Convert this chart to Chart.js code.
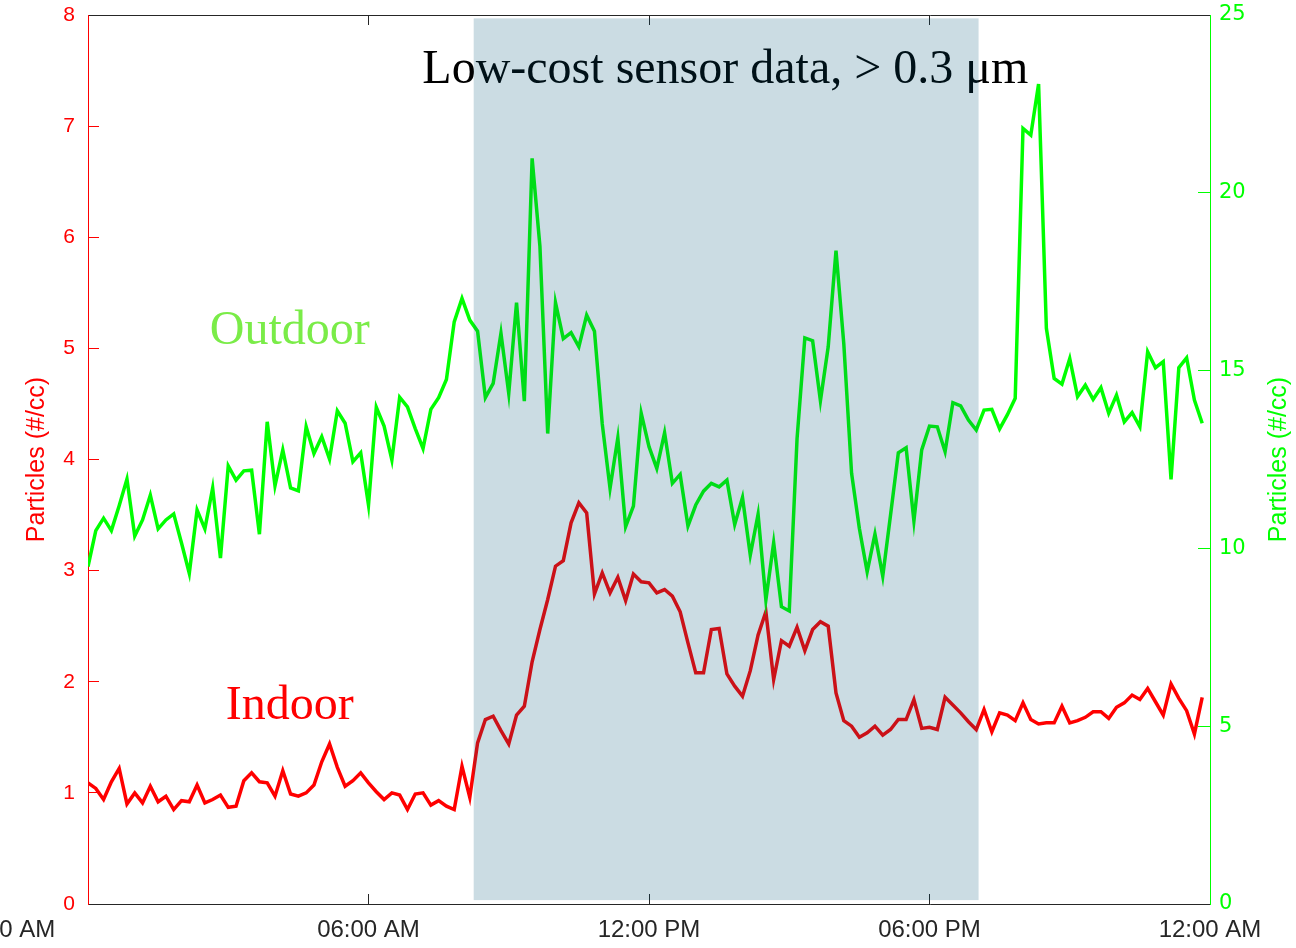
<!DOCTYPE html>
<html>
<head>
<meta charset="utf-8">
<script src="https://cdn.jsdelivr.net/npm/chart.js@4/dist/chart.umd.min.js"></script>
<style>
  html, body { margin: 0; padding: 0; background: #fff; overflow: hidden; }
  #wrap { width: 1296px; height: 948px; }
</style>
</head>
<body>
<div id="wrap"><canvas id="myChart" width="1296" height="948"></canvas></div>
<script>
// 10-minute samples over one day (minutes after midnight)
const times = Array.from({ length: 144 }, (_, i) => i * 10);

// outdoor particles, right axis (#/cc)
const outdoor = [
  9.49, 10.5, 10.85, 10.5, 11.2, 11.95, 10.35, 10.8, 11.5, 10.55,
  10.8, 10.97, 10.15, 9.3, 11.08, 10.55, 11.7, 9.73, 12.32, 11.92,
  12.18, 12.2, 10.4, 13.56, 11.76, 12.77, 11.7, 11.62, 13.42, 12.67,
  13.14, 12.51, 13.87, 13.52, 12.44, 12.69, 11.22, 13.97, 13.44, 12.49,
  14.25, 13.98, 13.37, 12.81, 13.91, 14.24, 14.75, 16.37, 17.03, 16.42,
  16.11, 14.24, 14.64, 16.05, 14.36, 16.91, 14.14, 20.97, 18.5, 13.23,
  16.91, 15.9, 16.07, 15.67, 16.56, 16.11, 13.5, 11.69, 13.11, 10.61,
  11.19, 13.8, 12.86, 12.25, 13.25, 11.83, 12.08, 10.63, 11.22, 11.61,
  11.83, 11.73, 11.92, 10.67, 11.43, 9.81, 10.96, 8.55, 10.16, 8.36,
  8.24, 13.08, 15.92, 15.84, 14.15, 15.67, 18.37, 15.76, 12.11, 10.56,
  9.34, 10.4, 9.22, 10.94, 12.69, 12.83, 10.77, 12.77, 13.44, 13.42,
  12.72, 14.1, 14.01, 13.61, 13.33, 13.89, 13.91, 13.36, 13.76, 14.22,
  21.81, 21.62, 23.06, 16.19, 14.78, 14.62, 15.34, 14.27, 14.59, 14.19,
  14.52, 13.8, 14.31, 13.56, 13.82, 13.42, 15.53, 15.08, 15.25, 11.94,
  15.08, 15.36, 14.17, 13.52
];

// indoor particles, left axis (#/cc)
const indoor = [
  1.09, 1.04, 0.94, 1.10, 1.22, 0.90, 1.0, 0.91, 1.06, 0.92,
  0.97, 0.85, 0.93, 0.92, 1.07, 0.91, 0.94, 0.98, 0.87, 0.88,
  1.11, 1.18, 1.10, 1.09, 0.97, 1.20, 0.99, 0.97, 1.0, 1.07,
  1.28, 1.44, 1.23, 1.06, 1.11, 1.18, 1.09, 1.01, 0.94, 1.0,
  0.98, 0.85, 0.99, 1.0, 0.89, 0.93, 0.88, 0.85, 1.24, 0.96,
  1.45, 1.66, 1.69, 1.56, 1.44, 1.70, 1.78, 2.18, 2.47, 2.74,
  3.04, 3.09, 3.43, 3.61, 3.52, 2.79, 2.98, 2.80, 2.94, 2.73,
  2.97, 2.90, 2.89, 2.80, 2.83, 2.77, 2.63, 2.35, 2.08, 2.08,
  2.47, 2.48, 2.07, 1.96, 1.87, 2.10, 2.42, 2.63, 2.02, 2.37,
  2.32, 2.49, 2.28, 2.47, 2.54, 2.50, 1.90, 1.65, 1.60, 1.50,
  1.54, 1.60, 1.52, 1.57, 1.66, 1.66, 1.84, 1.58, 1.59, 1.57,
  1.86, 1.79, 1.72, 1.64, 1.57, 1.75, 1.55, 1.72, 1.70, 1.65,
  1.81, 1.66, 1.62, 1.63, 1.63, 1.78, 1.63, 1.65, 1.68, 1.73,
  1.73, 1.67, 1.77, 1.81, 1.88, 1.84, 1.94, 1.82, 1.70, 1.98,
  1.85, 1.74, 1.53, 1.86
];

const tickMinutes = [0, 360, 720, 1080, 1440];
const tickLabels = ['12:00 AM', '06:00 AM', '12:00 PM', '06:00 PM', '12:00 AM'];

// daytime band (minutes)
const shadeStart = 495;
const shadeEnd = 1143;

const titleText = 'Low-cost sensor data, > 0.3 \u03bcm';

Chart.defaults.font.family = "'Liberation Sans', Arial, sans-serif";

const overlay = {
  id: 'overlay',
  afterDatasetsDraw(chart) {
    const { ctx, scales } = chart;
    const x = scales.x, yL = scales.yL, yR = scales.yR;
    ctx.save();
    ctx.textAlign = 'center';
    ctx.textBaseline = 'middle';
    ctx.font = '48px "Liberation Serif", "Times New Roman", serif';
    ctx.fillStyle = '#000';
    ctx.fillText(titleText, x.getPixelForValue(818), yL.getPixelForValue(7.5));
    ctx.fillStyle = '#7aec48';
    ctx.fillText('Outdoor', x.getPixelForValue(259), yR.getPixelForValue(16.1));
    ctx.fillStyle = '#ff0000';
    ctx.fillText('Indoor', x.getPixelForValue(259), yL.getPixelForValue(1.78));

    // shaded box drawn over the lines
    const x0 = x.getPixelForValue(shadeStart);
    const x1 = x.getPixelForValue(shadeEnd);
    const y0 = yL.getPixelForValue(7.97);
    const y1 = yL.getPixelForValue(0.035);
    ctx.fillStyle = 'rgba(0, 83, 118, 0.204)';
    ctx.fillRect(x0, y0, x1 - x0, y1 - y0);
    ctx.restore();
  },
  afterDraw(chart) {
    const { ctx, chartArea } = chart;
    const yR = chart.scales.yR;
    ctx.save();
    ctx.translate(yR.right - 17, (chartArea.top + chartArea.bottom) / 2);
    ctx.rotate(-Math.PI / 2);
    ctx.textAlign = 'center';
    ctx.textBaseline = 'middle';
    ctx.font = "25px 'Liberation Sans', Arial, sans-serif";
    ctx.fillStyle = '#00ff00';
    ctx.fillText('Particles (#/cc)', 0, 0);
    ctx.restore();
  }
};

const setTicks = s => { s.ticks = tickMinutes.map(v => ({ value: v })); };
const noPad = s => { s.paddingTop = 0; s.paddingBottom = 0; s.paddingLeft = 0; s.paddingRight = 0; };

const ctx = document.getElementById('myChart').getContext('2d');
const chart = new Chart(ctx, {
  type: 'line',
  data: {
    datasets: [
      {
        label: 'Outdoor',
        data: times.map((t, i) => ({ x: t, y: outdoor[i] })),
        borderColor: '#00ff00',
        borderWidth: 3.5,
        pointRadius: 0,
        tension: 0,
        yAxisID: 'yR',
        xAxisID: 'x'
      },
      {
        label: 'Indoor',
        data: times.map((t, i) => ({ x: t, y: indoor[i] })),
        borderColor: '#ff0000',
        borderWidth: 3.5,
        pointRadius: 0,
        tension: 0,
        yAxisID: 'yL',
        xAxisID: 'x'
      }
    ]
  },
  options: {
    responsive: false,
    animation: false,
    layout: { padding: 0 },
    plugins: { legend: { display: false }, tooltip: { enabled: false } },
    scales: {
      x: {
        type: 'linear',
        position: 'bottom',
        min: 0,
        max: 1440,
        afterBuildTicks: setTicks,
        ticks: {
          // the first label sits half off the left edge in the original
          callback: (v, i) => i === 0 ? tickLabels[i] + '\u2003'.repeat(7) : tickLabels[i],
          color: '#262626',
          font: { size: 24 },
          padding: 22,
          maxRotation: 0,
          autoSkip: false
        },
        grid: { drawOnChartArea: false, tickLength: -10, color: '#262626' },
        border: { color: '#262626', width: 1 },
        afterFit: s => { s.height = 44; noPad(s); }
      },
      xTop: {
        type: 'linear',
        position: 'top',
        min: 0,
        max: 1440,
        afterBuildTicks: setTicks,
        ticks: { display: false },
        grid: { drawOnChartArea: false, tickLength: -10, color: '#262626' },
        border: { color: '#262626', width: 1 },
        afterFit: s => { s.height = 15; noPad(s); }
      },
      yL: {
        position: 'left',
        min: 0,
        max: 8,
        ticks: { stepSize: 1, color: '#ff0000', font: { size: 21 }, padding: 24 },
        grid: { drawOnChartArea: false, tickLength: -11, color: '#ff0000' },
        border: { color: '#ff0000', width: 1 },
        title: {
          display: true,
          text: 'Particles (#/cc)',
          color: '#ff0000',
          font: { size: 25 },
          padding: { top: 22, bottom: 0 }
        },
        afterFit: s => { s.width = 88; noPad(s); }
      },
      yR: {
        position: 'right',
        min: 0,
        max: 25,
        ticks: {
          stepSize: 5,
          color: '#00ff00',
          font: { size: 21, family: "'DejaVu Sans', sans-serif" },
          padding: 21
        },
        grid: { drawOnChartArea: false, tickLength: -12, color: '#00ff00' },
        border: { color: '#00ff00', width: 1 },
        afterFit: s => { s.width = 86; noPad(s); }
      }
    }
  },
  plugins: [overlay]
});
</script>
</body>
</html>
